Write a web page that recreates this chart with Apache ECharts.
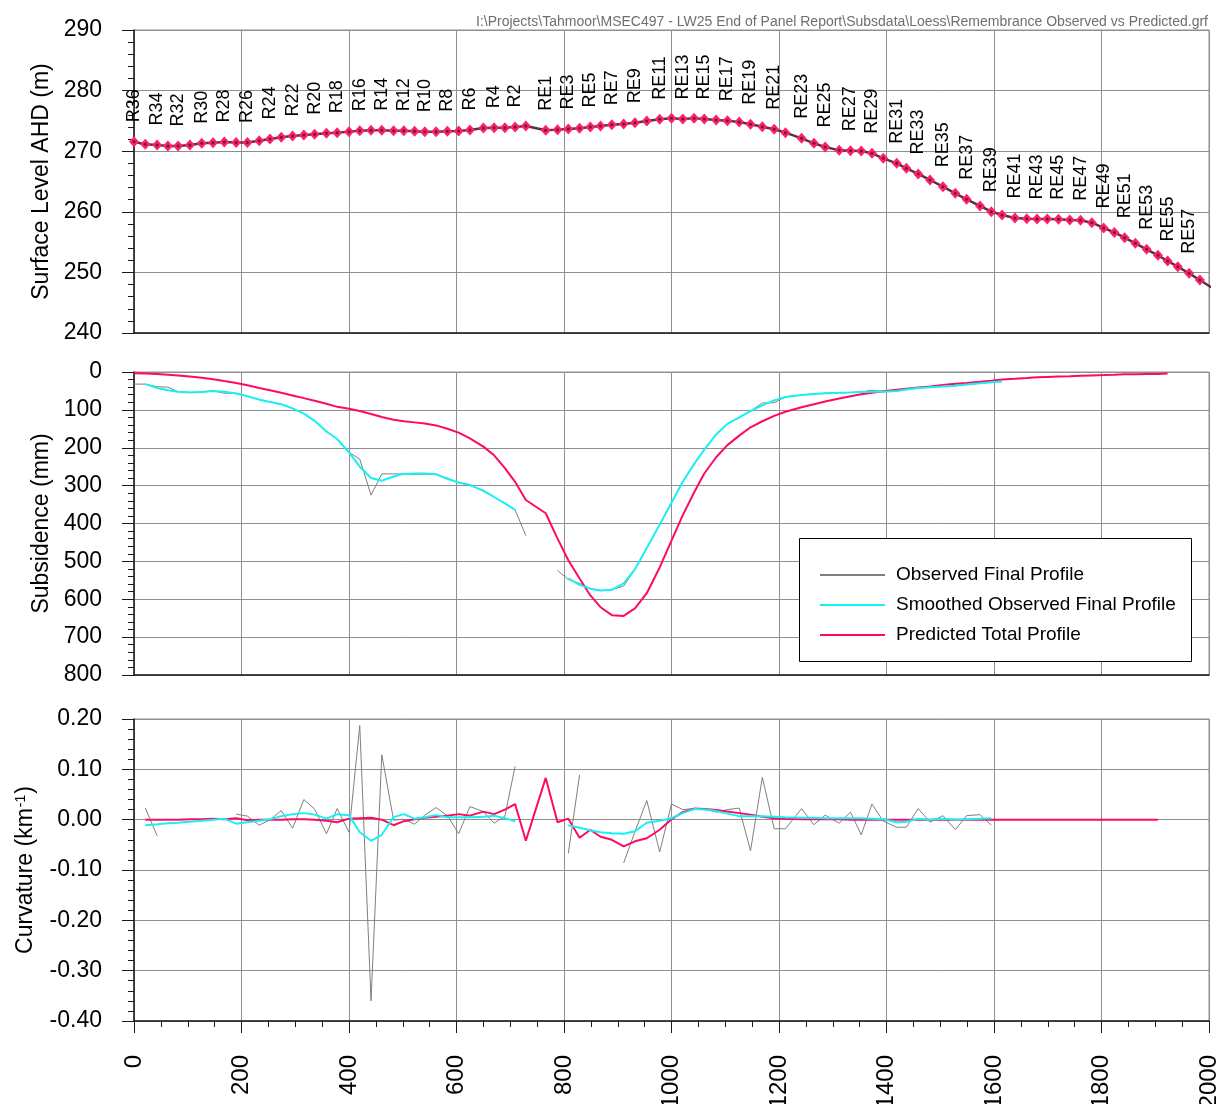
<!DOCTYPE html>
<html>
<head>
<meta charset="utf-8">
<script src="https://cdn.jsdelivr.net/npm/echarts@6/dist/echarts.min.js"></script>
<style>
  html, body { margin: 0; padding: 0; background: #ffffff; }
  #chart { width: 1224px; height: 1104px; }
</style>
</head>
<body>
<div id="chart"></div>
<script>
// Survey pegs along the Remembrance line (R36 -> R1, then RE1 -> RE59)
const pegNames = [
  'R36','R35','R34','R33','R32','R31','R30','R29','R28','R27','R26','R25',
  'R24','R23','R22','R21','R20','R19','R18','R17','R16','R15','R14','R13',
  'R12','R11','R10','R9','R8','R7','R6','R5','R4','R3','R2','R1',
  'RE1','RE2','RE3','RE4','RE5','RE6','RE7','RE8','RE9','RE10',
  'RE11','RE12','RE13','RE14','RE15','RE16','RE17','RE18','RE19','RE20',
  'RE21','RE22','RE23','RE24','RE25','RE26','RE27','RE28','RE29','RE30',
  'RE31','RE32','RE33','RE34','RE35','RE36','RE37','RE38','RE39','RE40',
  'RE41','RE42','RE43','RE44','RE45','RE46','RE47','RE48','RE49','RE50',
  'RE51','RE52','RE53','RE54','RE55','RE56','RE57','RE58','RE59'
];

// Pegs whose names are printed above the surface profile
const pegLabels = [
  'R36','R34','R32','R30','R28','R26','R24','R22','R20','R18','R16','R14',
  'R12','R10','R8','R6','R4','R2',
  'RE1','RE3','RE5','RE7','RE9','RE11','RE13','RE15','RE17','RE19','RE21',
  'RE23','RE25','RE27','RE29','RE31','RE33','RE35','RE37','RE39','RE41',
  'RE43','RE45','RE47','RE49','RE51','RE53','RE55','RE57'
];

// Distance along the line (m)
const pegChainage = [
  0,21,43,63,82,104,126,147,168,190,211,233,253,274,295,316,336,358,378,400,
  420,441,461,483,502,522,541,562,583,604,625,650,670,690,709,729,
  766,788,808,829,849,868,889,911,932,954,978,1000,1021,1042,1061,1083,1104,
  1126,1147,1169,1191,1212,1242,1265,1286,1312,1333,1353,1373,1394,1419,1437,
  1459,1481,1505,1528,1549,1574,1595,1615,1639,1661,1680,1699,1720,1741,1761,
  1782,1804,1824,1843,1863,1884,1905,1923,1942,1963,1983,2004
];

// Surface level AHD (m)
const surfaceLevel = [
  271.57,271.13,271.02,270.86,270.86,271.02,271.30,271.40,271.50,271.45,271.45,271.74,
  272.00,272.29,272.50,272.67,272.78,272.95,273.06,273.23,273.39,273.45,273.45,273.39,
  273.39,273.28,273.23,273.23,273.28,273.34,273.50,273.83,273.89,273.89,274.00,274.16,
  273.45,273.56,273.67,273.78,274.00,274.16,274.35,274.49,274.70,274.98,
  275.26,275.42,275.31,275.42,275.31,275.15,275.04,274.82,274.44,274.05,
  273.61,273.06,272.12,271.30,270.69,270.14,270.09,270.03,269.65,268.82,
  268.00,267.18,266.24,265.25,264.14,263.05,262.06,260.96,260.02,259.47,
  258.98,258.87,258.81,258.81,258.76,258.65,258.59,258.20,257.33,256.60,
  255.73,254.79,253.80,252.81,251.88,250.94,249.84,248.75,247.55
];

// Subsidence (mm)
const observedSubsidence = [
  32,32,39,40,52,54,53,50,56,56,64,73,79,85,96,110,129,157,177,212,
  230,325,269,269,269,270,270,270,280,292,300,312,330,347,364,432,
  null,524,548,558,572,577,575,565,521,465,403,345,290,243,205,165,137,120,103,82,
  81,66,61,58,56,55,54,53,48,52,50,46,42,40,38,36,33,30,27,25,
  null,null,null,null,null,null,null,null,null,null,
  null,null,null,null,null,null,null,null,null
];
const smoothedSubsidence = [
  null,32,42,48,52,54,53,50,52,57,64,73,79,85,96,110,129,157,177,212,
  250,280,287,276,269,268,268,270,282,292,298,314,330,347,364,null,
  null,null,545,562,572,577,575,558,521,465,403,345,290,243,205,165,137,120,103,88,
  75,66,61,58,56,55,54,53,52,52,50,46,42,40,38,36,33,30,27,25,
  null,null,null,null,null,null,null,null,null,null,
  null,null,null,null,null,null,null,null,null
];
const predictedSubsidence = [
  3.5,4,5,7,9,12,15,19,24,29,35,42,48,55,62,69,76,84,92,97,
  103,111,119,126,130,133,136,141,150,160,175,197,220,254,290,338,
  373,440,497,545,590,621,642,644,624,584,516,445,378,318,268,225,193,168,146,130,
  116,105,93,85,78,70,64,59,55,51,47,44,41,38,34,31,29,26,23,20,
  18,16,14,13,12,11,10,9,8,7,6,6,5,5,4,null,null,null,null
];

// Curvature (1/km)
const observedCurvature = [
  null,0.023,-0.032,null,null,null,null,null,null,0.011,0.007,-0.011,
  0.000,0.018,-0.017,0.040,0.021,-0.028,0.022,-0.025,0.187,-0.360,0.129,-0.001,
  0.001,-0.009,0.009,0.024,0.008,-0.028,0.026,0.016,-0.007,0.007,0.106,null,
  null,null,-0.067,0.089,null,null,null,-0.086,-0.024,0.038,
  -0.064,0.031,0.020,0.022,0.022,0.015,0.020,0.023,-0.062,0.084,
  -0.018,-0.018,0.022,-0.010,0.009,-0.007,0.015,-0.030,0.031,-0.003,
  -0.015,-0.015,0.022,-0.005,0.008,-0.020,0.008,0.010,-0.011,null,
  null,null,null,null,null,null,null,null,null,null,
  null,null,null,null,null,null,null,null,null
];
const smoothedCurvature = [
  null,-0.011,-0.009,-0.007,-0.006,-0.004,-0.002,0.000,0.002,-0.008,-0.005,-0.002,
  0.001,0.007,0.011,0.013,0.010,0.002,0.011,0.009,-0.025,-0.042,-0.030,0.005,
  0.011,0.002,0.005,0.009,0.005,0.005,0.005,0.006,0.008,0.003,-0.003,null,
  null,null,-0.011,-0.016,-0.021,-0.025,-0.027,-0.028,-0.023,-0.006,
  -0.002,0.003,0.013,0.021,0.020,0.017,0.012,0.007,0.007,0.007,
  0.006,0.005,0.004,0.004,0.003,0.003,0.003,0.003,0.002,0.001,
  -0.005,-0.004,0.002,0.000,0.002,0.000,0.001,0.002,0.003,null,
  null,null,null,null,null,null,null,null,null,null,
  null,null,null,null,null,null,null,null,null
];
const predictedCurvature = [
  null,0.000,0.000,0.000,0.000,0.001,0.001,0.002,0.001,0.003,-0.001,0.000,
  0.000,0.000,0.001,0.001,0.000,-0.002,-0.005,0.002,0.003,0.004,0.000,-0.011,
  -0.003,0.001,0.004,0.006,0.008,0.011,0.008,0.016,0.011,0.020,0.031,-0.042,
  0.083,-0.005,0.002,-0.036,-0.020,-0.034,-0.040,-0.053,-0.043,-0.037,
  -0.020,0.001,0.015,0.022,0.021,0.019,0.016,0.013,0.010,0.006,
  0.003,0.002,0.001,0.001,0.001,0.001,0.000,0.000,0.000,0.000,
  0.000,0.000,0.000,0.000,0.000,0.000,0.000,0.000,0.000,0.000,
  0.000,0.000,0.000,0.000,0.000,0.000,0.000,0.000,0.000,0.000,
  0.000,0.000,0.000,0.000,null,null,null,null,null
];

const FONT = "'Liberation Sans', Arial, Helvetica, sans-serif";
const AXIS_COLOR = '#1a1a1a';
const GRID_COLOR = '#8f8f8f';
const OBS_COLOR = '#7f7f7f';
const SMOOTH_COLOR = '#17f0f5';
const PRED_COLOR = '#ff0a62';
const FILE_PATH = 'I:\\Projects\\Tahmoor\\MSEC497 - LW25 End of Panel Report\\Subsdata\\Loess\\Remembrance Observed vs Predicted.grf';

function pairs(values) {
  return pegChainage.map((c, i) => [c, values[i]]);
}

function xAxisFor(gridIndex, withLabels) {
  return {
    type: 'value', gridIndex: gridIndex, min: 0, max: 2000, interval: 200,
    axisLine: { show: true, onZero: false, lineStyle: { color: AXIS_COLOR, width: 1.5 } },
    axisTick: { show: withLabels, length: 12, lineStyle: { color: AXIS_COLOR, width: 1 } },
    minorTick: { show: withLabels, splitNumber: 4, length: 6, lineStyle: { color: AXIS_COLOR, width: 1 } },
    axisLabel: {
      show: withLabels, rotate: 90, margin: 34, fontSize: 24, color: '#000', fontFamily: FONT,
      formatter: v => String(v)
    },
    splitLine: { show: true, lineStyle: { color: GRID_COLOR, width: 1 } },
    minorSplitLine: { show: false }
  };
}

function yAxisFor(gridIndex, cfg) {
  return Object.assign({
    type: 'value', gridIndex: gridIndex,
    nameLocation: 'middle', nameRotate: 90,
    nameTextStyle: { fontSize: 23, color: '#000', fontFamily: FONT },
    axisLine: { show: true, lineStyle: { color: AXIS_COLOR, width: 1.5 } },
    axisTick: { show: true, length: 12, lineStyle: { color: AXIS_COLOR, width: 1 } },
    minorTick: { show: true, splitNumber: 5, length: 6, lineStyle: { color: AXIS_COLOR, width: 1 } },
    axisLabel: { margin: 32, fontSize: 23, color: '#000', fontFamily: FONT },
    splitLine: { show: true, lineStyle: { color: GRID_COLOR, width: 1 } }
  }, cfg);
}

const gridBase = {
  left: 134, right: 15, show: true, borderColor: GRID_COLOR, borderWidth: 1,
  backgroundColor: 'transparent', containLabel: false, outerBoundsMode: 'none'
};

const surfaceData = pegNames.map((n, i) => ({ name: n, value: [pegChainage[i], surfaceLevel[i]] }));

const option = {
  animation: false,
  backgroundColor: '#ffffff',
  textStyle: { fontFamily: FONT },
  title: {
    text: FILE_PATH, right: 11, top: 10,
    textStyle: { fontSize: 14, fontWeight: 'normal', color: '#6f6f6f', fontFamily: FONT }
  },
  grid: [
    Object.assign({ top: 30, height: 303 }, gridBase),
    Object.assign({ top: 372, height: 303 }, gridBase),
    Object.assign({ top: 719, height: 302 }, gridBase)
  ],
  xAxis: [xAxisFor(0, false), xAxisFor(1, false), xAxisFor(2, true)],
  yAxis: [
    yAxisFor(0, { min: 240, max: 290, interval: 10, name: 'Surface Level AHD (m)', nameGap: 79 }),
    yAxisFor(1, { min: 0, max: 800, interval: 100, inverse: true, name: 'Subsidence (mm)', nameGap: 79 }),
    yAxisFor(2, {
      min: -0.4, max: 0.2, interval: 0.1, nameGap: 96,
      name: '{n|Curvature (km}{s|-1}{n|)}',
      nameTextStyle: {
        fontSize: 23, color: '#000', fontFamily: FONT,
        rich: {
          n: { fontSize: 23, color: '#000', fontFamily: FONT },
          s: { fontSize: 14, color: '#000', fontFamily: FONT, verticalAlign: 'top', padding: [0, 1, 10, 1] }
        }
      },
      axisLabel: {
        margin: 32, fontSize: 23, color: '#000', fontFamily: FONT,
        formatter: v => (Math.abs(v) < 1e-9 ? 0 : v).toFixed(2)
      }
    })
  ],
  legend: {
    data: ['Observed Final Profile', 'Smoothed Observed Final Profile', 'Predicted Total Profile'],
    orient: 'vertical', left: 815, top: 560,
    icon: 'rect', itemWidth: 65, itemHeight: 2, itemGap: 10,
    selectedMode: false, z: 20,
    textStyle: { fontSize: 19, lineHeight: 20, height: 20, color: '#000', fontFamily: FONT, padding: [0, 0, 0, 6] }
  },
  graphic: [
    {
      type: 'rect', left: 799, top: 538, z: 15,
      shape: { width: 392, height: 123 },
      style: { fill: '#ffffff', stroke: '#000000', lineWidth: 1 }
    }
  ],
  series: [
    {
      name: 'Surface Level', type: 'line', xAxisIndex: 0, yAxisIndex: 0,
      data: surfaceData,
      lineStyle: { color: '#5a3434', width: 2.5 },
      symbol: 'diamond', symbolSize: [10, 11],
      itemStyle: { color: '#ff1f6e', borderWidth: 0 },
      label: {
        show: true, position: 'top', distance: 14, rotate: 90,
        align: 'left', verticalAlign: 'middle',
        fontSize: 18, color: '#000', fontFamily: FONT,
        formatter: p => (pegLabels.indexOf(p.name) >= 0 ? p.name : '')
      },
      z: 3
    },
    {
      name: 'Surface Level Points', type: 'scatter', xAxisIndex: 0, yAxisIndex: 0,
      data: pairs(surfaceLevel), symbol: 'circle', symbolSize: 3,
      itemStyle: { color: '#3c1c1c' }, silent: true, z: 4
    },
    {
      name: 'Observed Final Profile', type: 'line', xAxisIndex: 1, yAxisIndex: 1,
      data: pairs(observedSubsidence), symbol: 'none',
      lineStyle: { color: OBS_COLOR, width: 1 }, itemStyle: { color: OBS_COLOR }, z: 2
    },
    {
      name: 'Predicted Total Profile', type: 'line', xAxisIndex: 1, yAxisIndex: 1,
      data: pairs(predictedSubsidence), symbol: 'none',
      lineStyle: { color: PRED_COLOR, width: 2 }, itemStyle: { color: PRED_COLOR }, z: 3
    },
    {
      name: 'Smoothed Observed Final Profile', type: 'line', xAxisIndex: 1, yAxisIndex: 1,
      data: pairs(smoothedSubsidence), symbol: 'none',
      lineStyle: { color: SMOOTH_COLOR, width: 2 }, itemStyle: { color: SMOOTH_COLOR }, z: 4
    },
    {
      name: 'Observed Final Profile', type: 'line', xAxisIndex: 2, yAxisIndex: 2,
      data: pairs(observedCurvature), symbol: 'none',
      lineStyle: { color: OBS_COLOR, width: 1 }, itemStyle: { color: OBS_COLOR }, z: 2
    },
    {
      name: 'Predicted Total Profile', type: 'line', xAxisIndex: 2, yAxisIndex: 2,
      data: pairs(predictedCurvature), symbol: 'none',
      lineStyle: { color: PRED_COLOR, width: 2 }, itemStyle: { color: PRED_COLOR }, z: 3
    },
    {
      name: 'Smoothed Observed Final Profile', type: 'line', xAxisIndex: 2, yAxisIndex: 2,
      data: pairs(smoothedCurvature), symbol: 'none',
      lineStyle: { color: SMOOTH_COLOR, width: 2 }, itemStyle: { color: SMOOTH_COLOR }, z: 4
    }
  ]
};

const chart = echarts.init(document.getElementById('chart'), null, { renderer: 'canvas' });
chart.setOption(option);
</script>
</body>
</html>
